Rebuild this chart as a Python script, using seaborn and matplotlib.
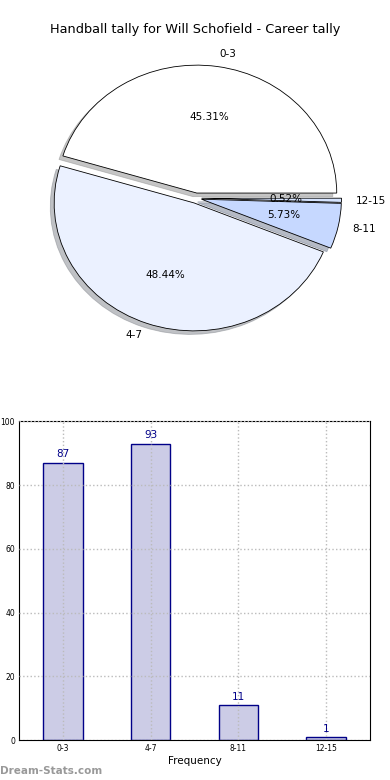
import matplotlib
matplotlib.use("Agg")
import matplotlib.pyplot as plt
import seaborn as sns
import pandas as pd

categories = ["0-3", "4-7", "8-11", "12-15"]
counts = [87, 93, 11, 1]
pie_colors = ["#FFFFFF", "#EBF1FF", "#C6D8FF", "#D6E4FF"]
title = "Handball tally for Will Schofield - Career tally"
yticks = [0, 20, 40, 60, 80, 100]

sns.set_style("white")
plt.rcParams['font.family'] = ['DejaVu Sans']
plt.rcParams.update({"text.color": "black", "axes.labelcolor": "black",
                     "xtick.color": "black", "ytick.color": "black"})

fig = plt.figure(figsize=(3.9, 7.8), dpi=100)

# Pie
axp = fig.add_axes([0.054, 0.541, 0.897, 0.410])
wedges, texts, autotexts = axp.pie(
    counts, labels=categories, colors=pie_colors, explode=[0.04] * 4,
    autopct="%.2f%%", pctdistance=0.6, labeldistance=1.1,
    shadow={"ox": -0.02, "oy": -0.02, "shade": 0.45},
    startangle=0, wedgeprops=dict(edgecolor="black", linewidth=0.6),
    textprops=dict(fontsize=7.5, color="black"))
axp.set_aspect("auto")
axp.set_xlim(-1.25, 1.25)
axp.set_ylim(-1.25, 1.25)
fig.text(0.5, 0.962, title, ha="center", va="center", fontsize=9.3, color="black")

# Bars
axb = fig.add_axes([0.049, 0.051, 0.9, 0.409])
df = pd.DataFrame({"cat": categories, "count": counts})
sns.barplot(data=df, x="cat", y="count", ax=axb, width=0.45,
            color="#CCCCE6", edgecolor="#000088", linewidth=1.0, saturation=1)
for i, v in enumerate(counts):
    axb.text(i, v + 1, str(v), ha="center", va="bottom", color="#000088", fontsize=7.5)
axb.set_xlim(-0.5, 3.5)
axb.set_ylim(0, 100)
axb.set_yticks(yticks)
axb.set_ylabel("")
axb.set_xlabel("Frequency", fontsize=7.5, labelpad=2)
axb.tick_params(axis="both", labelsize=5.5, length=2, direction="in", pad=3)
axb.grid(True, color="#BBBBBB", linestyle=":", linewidth=1.0)
axb.set_axisbelow(False)
for s in axb.spines.values():
    s.set_color("black")
    s.set_linewidth(0.8)

fig.text(0.0, 0.012, "Dream-Stats.com", ha="left", va="center", fontsize=7.5,
         color="#999999", fontweight="bold")

fig.savefig("out.png", dpi=100)
